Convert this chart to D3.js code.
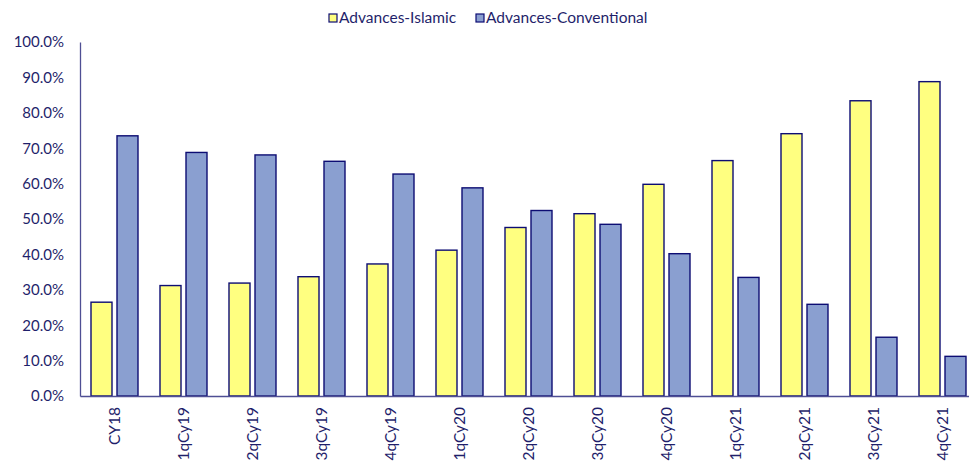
<!DOCTYPE html>
<html>
<head>
<meta charset="utf-8">
<script src="https://cdn.jsdelivr.net/npm/d3@7"></script>
<style>
  html, body { margin: 0; padding: 0; background: #ffffff; }
  svg { display: block; font-family: Lato, "Open Sans", sans-serif; }
</style>
</head>
<body>
<svg id="chart" width="969" height="466"></svg>
<script>
// Share of advances by segment, per period (percent)
const categories = ["CY18", "1qCy19", "2qCy19", "3qCy19", "4qCy19", "1qCy20", "2qCy20",
  "3qCy20", "4qCy20", "1qCy21", "2qCy21", "3qCy21", "4qCy21"];
const islamic = [26.5, 31.2, 31.9, 33.7, 37.3, 41.2, 47.6, 51.5, 59.8, 66.5, 74.1, 83.4, 88.8];
const conventional = [73.5, 68.8, 68.1, 66.3, 62.7, 58.8, 52.4, 48.5, 40.2, 33.5, 25.9, 16.6, 11.2];
const seriesNames = ["Advances-Islamic", "Advances-Conventional"];
const yTicks = [0, 10, 20, 30, 40, 50, 60, 70, 80, 90, 100];

const colors = ["#ffff80", "#8a9fd0"];
const textColor = "#1f1f6b";
const axisColor = "#4f4f94";
const barStroke = "#0d0d73";

const svg = d3.select("#chart");
const margin = { left: 80, top: 42, bottom: 70 };
const height = 466;
const bandStep = 69;
const plotW = bandStep * categories.length;
const plotBottom = height - margin.bottom;

const x = d3.scaleBand().domain(categories).range([margin.left, margin.left + plotW]).paddingInner(0).paddingOuter(0);
const y = d3.scaleLinear().domain([0, 100]).range([plotBottom, margin.top]);

const barW = 21, barGap = 5;
const sub = d3.scaleOrdinal().domain(seriesNames)
  .range([(bandStep - 2 * barW - barGap) / 2, (bandStep - 2 * barW - barGap) / 2 + barW + barGap]);

const rows = categories.map((c, i) => ({ cat: c, vals: [islamic[i], conventional[i]] }));

// Bars
const groups = svg.append("g").selectAll("g").data(rows).join("g")
  .attr("transform", d => `translate(${x(d.cat)},0)`);
groups.selectAll("rect").data(d => d.vals.map((v, k) => ({ v, k })))
  .join("rect")
  .attr("x", d => sub(seriesNames[d.k]))
  .attr("y", d => y(d.v))
  .attr("width", barW)
  .attr("height", d => y(0) - y(d.v))
  .attr("fill", d => colors[d.k])
  .attr("stroke", barStroke)
  .attr("stroke-width", 1.4);

// Y axis
const yAxis = d3.axisLeft(y).tickValues(yTicks).tickSize(0).tickPadding(16)
  .tickFormat(d => d.toFixed(1) + "%");
const gy = svg.append("g").attr("transform", `translate(${margin.left},0)`).call(yAxis);
gy.select(".domain").attr("stroke", axisColor).attr("stroke-width", 1.3);
gy.selectAll("text").attr("fill", textColor).style("font-size", "15px")
  .style("font-family", "Lato, sans-serif");

// X axis
const xAxis = d3.axisBottom(x).tickSize(0).tickPadding(0);
const gx = svg.append("g").attr("transform", `translate(0,${plotBottom})`).call(xAxis);
gx.select(".domain").attr("stroke", axisColor).attr("stroke-width", 1.3);
gx.selectAll("text")
  .attr("fill", textColor)
  .style("font-size", "15.5px")
  .style("font-family", "Lato, sans-serif")
  .attr("text-anchor", "end")
  .attr("dy", "0.35em")
  .attr("transform", "translate(0,11) rotate(-90)")
  .attr("x", 0).attr("y", 0);

// Legend
const legend = svg.append("g").attr("transform", "translate(329,18)");
const legendX = [0, 147];
seriesNames.forEach((name, k) => {
  const g = legend.append("g").attr("transform", `translate(${legendX[k]},0)`);
  g.append("rect").attr("x", 0).attr("y", -4).attr("width", 8).attr("height", 8)
    .attr("fill", colors[k]).attr("stroke", barStroke).attr("stroke-width", 1.2);
  g.append("text").attr("x", 10).attr("y", 0).attr("dy", "0.35em")
    .attr("fill", textColor).style("font-size", "15.5px").text(name);
});
</script>
</body>
</html>
